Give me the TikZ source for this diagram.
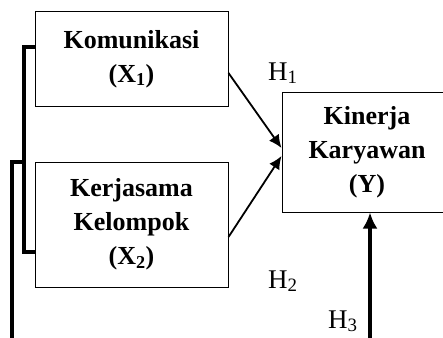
\documentclass[tikz,border=0pt]{standalone}
\usepackage{fontspec}
\setmainfont{Liberation Serif}
\usetikzlibrary{arrows.meta}
\begin{document}
\begin{tikzpicture}[x=1pt,y=-1pt,
  varbox/.style={draw,line width=1pt,rectangle,align=center,inner sep=0pt,
    font=\bfseries\fontsize{26}{34}\selectfont},
  hlabel/.style={anchor=base west,inner sep=0pt,font=\fontsize{27}{30}\selectfont},
  thin arrow/.style={line width=1.8pt,-{Latex[length=13pt,width=12pt]}},
  thick line/.style={line width=4pt}]
\useasboundingbox (0,0) rectangle (443,337);
\node[varbox,minimum width=193pt,minimum height=94pt] (x1) at (131.5,59) {Komunikasi\\(X\textsubscript{1})};
\node[varbox,minimum width=193pt,minimum height=125pt] (x2) at (131.5,224.5) {Kerjasama\\Kelompok\\(X\textsubscript{2})};
\node[varbox,minimum width=170pt,minimum height=120pt] (y) at (367,152) {Kinerja\\Karyawan\\(Y)};
\draw[thin arrow] ([yshift=-14pt]x1.east) -- ([yshift=4pt]y.west);
\draw[thin arrow] ([yshift=-12.5pt]x2.east) -- ([yshift=-4pt]y.west);
\coordinate (h3s) at (370,345);
\draw[line width=4pt,-{Latex[length=16pt,width=15pt]}] (h3s) -- (h3s |- y.south);
\coordinate (a1) at ([yshift=12pt]x1.west);
\coordinate (a2) at ([yshift=-27.5pt]x2.west);
\coordinate (bx) at (24,0);
\coordinate (ox) at (12,0);
\coordinate (ob) at (12,345);
\draw[thick line] (a1) -- (a1 -| bx) -- (a2 -| bx) -- (a2);
\coordinate (bm) at (24,162);
\draw[thick line] (bm) -- (bm -| ox) -- (ob);
\node[hlabel] (h1) at (268,80) {H\textsubscript{1}};
\node[hlabel] (h2) at (268,288) {H\textsubscript{2}};
\node[hlabel] (h3) at (328,328) {H\textsubscript{3}};
\end{tikzpicture}
\end{document}
